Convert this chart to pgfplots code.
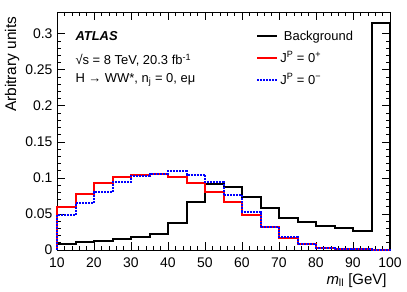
\documentclass[border=0pt]{standalone}
\usepackage{fontspec}
\setmainfont{Liberation Sans}
\usepackage{pgfplots}
\pgfplotsset{compat=1.18}
\begin{document}
\begin{tikzpicture}
\useasboundingbox (0,0) rectangle (407bp,292bp);
\begin{axis}[
  at={(57bp,42bp)}, anchor=south west,
  scale only axis, width=333bp, height=238bp,
  xmin=10, xmax=100, ymin=0, ymax=0.33,
  xtick={10,20,...,100},
  ytick={0,0.05,0.1,0.15,0.2,0.25,0.3},
  yticklabels={0,0.05,0.1,0.15,0.2,0.25,0.3},
  minor x tick num=4, minor y tick num=4,
  scaled y ticks=false,
  tick align=inside,
  major tick length=8bp, minor tick length=4bp,
  xtick pos=both, ytick pos=both,
  axis line style={line width=0.8bp},
  every tick/.style={black, line width=0.6bp},
  /pgf/number format/assume math mode=true,
  tick label style={font=\fontsize{14}{16}\selectfont},
  xticklabel style={yshift=-4bp},
  yticklabel style={xshift=-1bp},
  clip=false,
  legend style={draw=none, fill=none, at={(0.595,0.935)}, anchor=north west,
    font=\fontsize{13}{15}\selectfont, row sep=6bp, inner sep=1bp},
  legend cell align=left,
  legend image code/.code={\draw[#1] (0bp,0bp) -- (20bp,0bp);},
]
\addplot[black, line width=2bp, const plot] coordinates {
 (10,0) (10,0.009) (15,0.011) (20,0.0125) (25,0.015) (30,0.0185) (35,0.0227)
 (40,0.038) (45,0.066) (50,0.091) (55,0.088) (60,0.073) (65,0.058)
 (70,0.045) (75,0.039) (80,0.033) (85,0.030) (90,0.026) (95,0.315) (100,0)
};
\addlegendentry{\ Background}
\addplot[red, line width=2bp, const plot] coordinates {
 (10,0) (10,0.059) (15,0.078) (20,0.0926) (25,0.101) (30,0.1046) (35,0.1056)
 (40,0.101) (45,0.0935) (50,0.081) (55,0.066) (60,0.048) (65,0.0315)
 (70,0.017) (75,0.008) (80,0.003) (85,0.0015) (90,0.0008) (95,0.0005) (100,0)
};
\addlegendentry{J\textsuperscript{P} = 0\textsuperscript{+}}
\addplot[blue, line width=2bp, const plot, densely dotted] coordinates {
 (10,0) (10,0.0486) (15,0.065) (20,0.080) (25,0.094) (30,0.103) (35,0.106)
 (40,0.109) (45,0.104) (50,0.094) (55,0.076) (60,0.053) (65,0.032)
 (70,0.0176) (75,0.0083) (80,0.0025) (85,0.0012) (90,0.0007) (95,0.0005) (100,0)
};
\addlegendentry{J\textsuperscript{P} = 0\textsuperscript{\textminus}}
\node[anchor=west, font=\fontsize{13}{15}\selectfont\bfseries\itshape] at (axis description cs:0.045,0.899) {ATLAS};
\node[anchor=west, font=\fontsize{13}{15}\selectfont] at (axis description cs:0.045,0.798) {√s = 8 TeV, 20.3 fb\textsuperscript{-1}};
\node[anchor=west, font=\fontsize{13}{15}\selectfont] at (axis description cs:0.045,0.714) {H → WW*, n\textsubscript{j} = 0, eμ};
\node[rotate=90, anchor=east, font=\fontsize{15.5}{17}\selectfont] at (axis description cs:-0.135,0.995) {Arbitrary units};
\node[anchor=east, font=\fontsize{15}{17}\selectfont] at (axis description cs:1,-0.128) {\textit{m}\textsubscript{ll} [GeV]};
\end{axis}
\end{tikzpicture}
\end{document}
